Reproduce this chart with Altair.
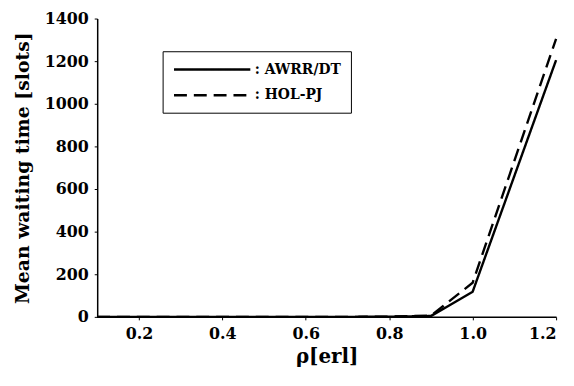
import altair as alt
import pandas as pd

rho = [0.1, 0.2, 0.3, 0.4, 0.5, 0.6, 0.7, 0.8, 0.9, 1.0, 1.2]
awrr = [0, 0, 0, 0, 0, 0, 0, 1, 4, 118, 1205]
holpj = [0, 0, 0, 0, 0, 0, 0, 1, 6, 160, 1305]
series = [": AWRR/DT", ": HOL-PJ"]

rows = []
for x, a, h in zip(rho, awrr, holpj):
    rows.append({"rho": x, "wait": a, "series": series[0]})
    rows.append({"rho": x, "wait": h, "series": series[1]})
df = pd.DataFrame(rows)

font = "DejaVu Serif"

chart = alt.Chart(df).mark_line(color="black", strokeWidth=2.4).encode(
    x=alt.X("rho:Q", title="ρ[erl]",
            scale=alt.Scale(domain=[0.1, 1.2], nice=False, zero=False),
            axis=alt.Axis(values=[0.2, 0.4, 0.6, 0.8, 1.0, 1.2], format=".1f")),
    y=alt.Y("wait:Q", title="Mean waiting time  [slots]",
            scale=alt.Scale(domain=[0, 1400], nice=False),
            axis=alt.Axis(values=list(range(0, 1401, 200)), format="d")),
    strokeDash=alt.StrokeDash("series:N", title=None,
        scale=alt.Scale(domain=series, range=[[1, 0], [13, 7]]),
        legend=alt.Legend(orient="none", legendX=66, legendY=33,
                          symbolType="M-1,0H10", symbolSize=196, symbolStrokeWidth=2.5,
                          symbolStrokeColor="black",
                          strokeColor="black", padding=10, rowPadding=10,
                          labelFont=font, labelFontSize=14, labelFontWeight="bold",
                          labelColor="black", labelOffset=66)),
    detail="series:N",
).properties(
    width=463, height=301,
    padding={"left": 5, "top": 1, "right": 5, "bottom": 5},
).configure_axis(
    grid=False, domainColor="black", domainWidth=1.5, tickColor="black",
    tickSize=3, labelFont=font, labelFontSize=16, labelFontWeight="bold",
    labelColor="black", titleFont=font, titleFontSize=19, titleFontWeight="bold",
    titleColor="black", labelPadding=6,
).configure_axisY(titlePadding=12).configure_axisX(titlePadding=5, titleFontSize=20).configure_view(
    stroke=None
)

chart.save("out.html", embed_options={"renderer": "svg", "actions": False})
